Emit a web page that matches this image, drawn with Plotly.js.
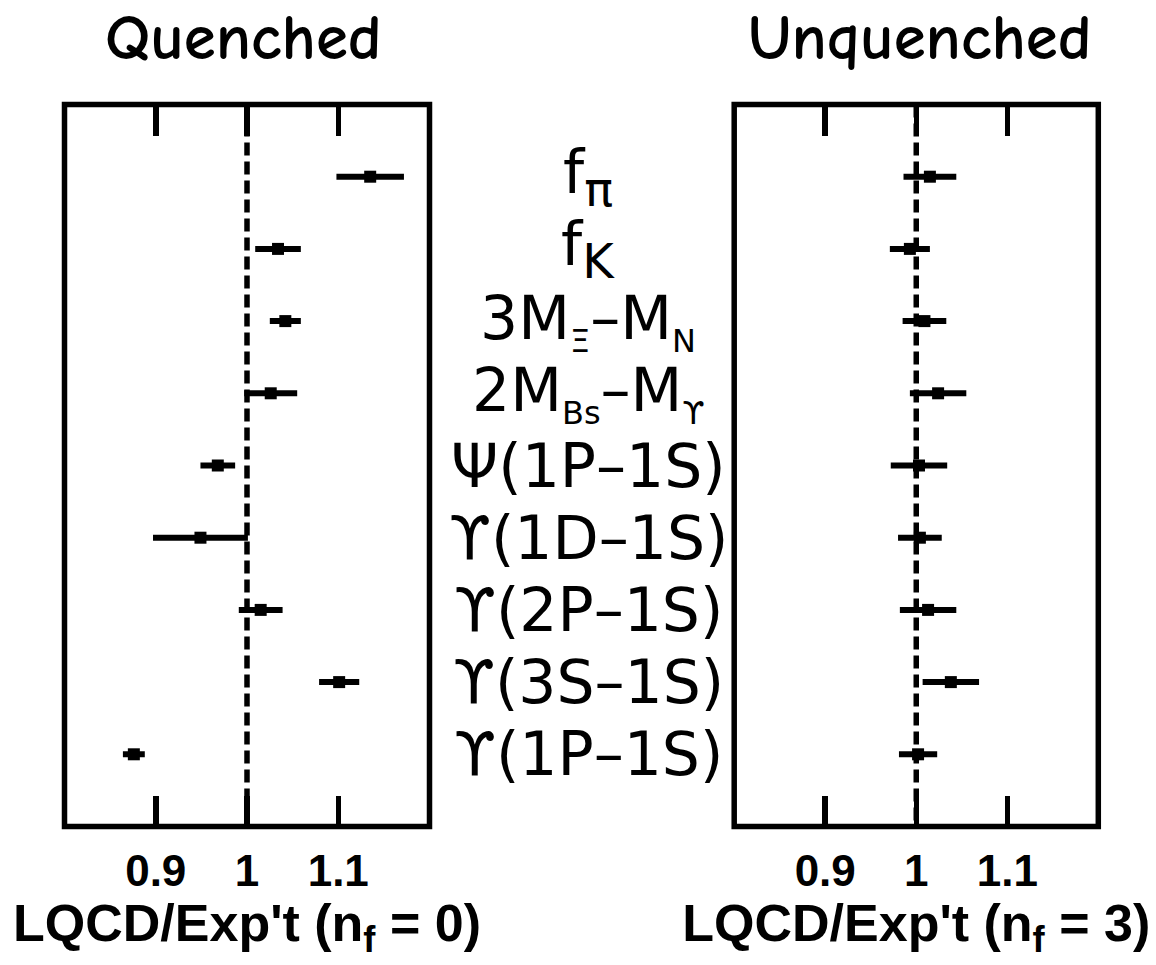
<!DOCTYPE html>
<html>
<head>
<meta charset="utf-8">
<script src="https://cdn.plot.ly/plotly-3.0.1.min.js"></script>
<style>
html,body{margin:0;padding:0;background:#fff;}
#chart{width:1156px;height:965px;}
</style>
</head>
<body>
<div id="chart"></div>
<script>
// ---- data ----
const quantities = ["f_pi", "f_K", "3MXi-MN", "2MBs-MUps", "Psi(1P-1S)", "Ups(1D-1S)", "Ups(2P-1S)", "Ups(3S-1S)", "Ups(1P-1S)"];
const rowLabels = [
  "f<sub><span style='font-size:48px'>π</span></sub>",
  "f<sub><span style='font-size:48px'>K</span></sub>",
  "3M<sub><span style='font-size:32px'>Ξ</span></sub>–M<sub><span style='font-size:32px'>N</span></sub>",
  "2M<sub><span style='font-size:32px'>Bs</span></sub>–M<sub><span style='font-size:32px'>ϒ</span></sub>",
  "Ψ(1P–1S)",
  "ϒ(1D–1S)",
  "ϒ(2P–1S)",
  "ϒ(3S–1S)",
  "ϒ(1P–1S)"
];
const quenched = [1.135, 1.034, 1.042, 1.026, 0.968, 0.949, 1.015, 1.101, 0.876];
const quenchedErr = [0.037, 0.025, 0.017, 0.029, 0.019, 0.052, 0.024, 0.022, 0.012];
const unquenched = [1.015, 0.993, 1.009, 1.024, 1.003, 1.004, 1.013, 1.038, 1.002];
const unquenchedErr = [0.029, 0.022, 0.024, 0.031, 0.031, 0.024, 0.031, 0.031, 0.021];
const tickVals = [0.9, 1, 1.1];
const tickText = ["0.9", "1", "1.1"];
const panelTitles = ["Quenched", "Unquenched"];
const axisTitles = ["LQCD/Exp't (n<sub>f</sub> = 0)", "LQCD/Exp't (n<sub>f</sub> = 3)"];

// ---- styling ----
const W = 1156, H = 965;
const LW = 5.5;
const titleFont = {family: "Comic Sans MS, Comic Neue, DejaVu Sans, sans-serif", size: 65, color: "#000", weight: "bold"};
const labelFont = {family: "DejaVu Sans, sans-serif", size: 60, color: "#000"};
const tickFont = {family: "Liberation Sans, Arial, sans-serif", size: 44, color: "#000", weight: "bold"};
const axTitleFont = {family: "Liberation Sans, Arial, sans-serif", size: 52, color: "#000", weight: "bold"};

const dom1 = [64.5 / W, 429.5 / W];
const dom2 = [734.2 / W, 1098.3 / W];
const ydom = [1 - 826.5 / H, 1 - 104.5 / H];

function trace(vals, errs, xa, ya) {
  return {
    type: "scatter", mode: "markers",
    x: vals, y: quantities,
    xaxis: xa, yaxis: ya,
    marker: {symbol: "square", size: 12, color: "#000"},
    error_x: {type: "data", array: errs, visible: true, color: "#000", thickness: 6, width: 0},
    hoverinfo: "skip", showlegend: false, cliponaxis: false
  };
}

function xaxis(domain, anchor, title) {
  return {
    domain: domain, anchor: anchor, range: [0.8, 1.2],
    tickmode: "array", tickvals: tickVals, ticktext: tickText,
    ticks: "inside", ticklen: 31, tickwidth: LW, tickcolor: "#000",
    mirror: "ticks", showline: false, showgrid: false, zeroline: false,
    tickfont: tickFont, ticklabelstandoff: 14,
    title: {text: title, font: axTitleFont, standoff: 0},
    fixedrange: true
  };
}
function yaxis(anchor) {
  return {
    domain: ydom, anchor: anchor, type: "category",
    categoryorder: "array", categoryarray: quantities,
    range: [quantities.length, -1],
    showticklabels: false, ticks: "", showgrid: false, zeroline: false, showline: false,
    fixedrange: true
  };
}

const shapes = [];
[["x", "y"], ["x2", "y2"]].forEach(([xa, ya]) => {
  shapes.push({type: "line", xref: xa, yref: ya + " domain", x0: 1, x1: 1, y0: 1, y1: 0,
    line: {color: "#000", width: LW, dash: "13px,6px"}});
  shapes.push({type: "rect", xref: xa + " domain", yref: ya + " domain", x0: 0, x1: 1, y0: 0, y1: 1,
    line: {color: "#000", width: LW}, fillcolor: "rgba(0,0,0,0)"});
});

const annotations = [];
rowLabels.forEach((t, i) => {
  annotations.push({text: t, xref: "paper", x: 588 / W, yref: "y", y: i,
    xanchor: "center", yanchor: "middle", showarrow: false, font: labelFont});
});
annotations.push({text: panelTitles[0], xref: "paper", x: 244 / W, yref: "paper", y: 1 - 38 / H,
  xanchor: "center", yanchor: "middle", showarrow: false, font: titleFont});
annotations.push({text: panelTitles[1], xref: "paper", x: 920 / W, yref: "paper", y: 1 - 38 / H,
  xanchor: "center", yanchor: "middle", showarrow: false, font: titleFont});

const layout = {
  width: W, height: H,
  margin: {l: 0, r: 0, t: 0, b: 0},
  paper_bgcolor: "#fff", plot_bgcolor: "#fff",
  xaxis: xaxis(dom1, "y", axisTitles[0]),
  yaxis: yaxis("x"),
  xaxis2: xaxis(dom2, "y2", axisTitles[1]),
  yaxis2: yaxis("x2"),
  shapes: shapes,
  annotations: annotations,
  showlegend: false
};

Plotly.newPlot("chart", [
  trace(quenched, quenchedErr, "x", "y"),
  trace(unquenched, unquenchedErr, "x2", "y2")
], layout, {staticPlot: true, displayModeBar: false});
</script>
</body>
</html>
